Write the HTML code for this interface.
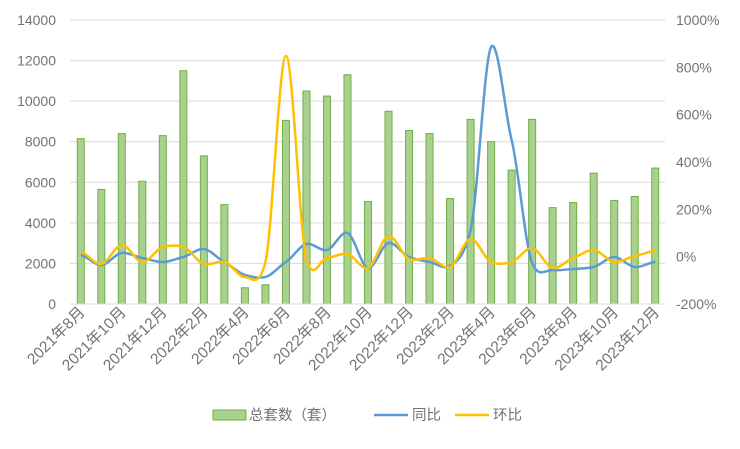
<!DOCTYPE html>
<html><head><meta charset="utf-8"><style>
body{margin:0;background:#fff;width:740px;height:444px;overflow:hidden}
svg text{font-family:"Liberation Sans","Noto Sans CJK SC",sans-serif;fill:#737373}
</style></head><body>
<svg id="s" width="740" height="444" xmlns="http://www.w3.org/2000/svg"></svg>
<script>
const s=document.getElementById('s');let h='';
const L=70,R=665,T=20,B=304;
for(let k=0;k<=7;k++){const y=B-k*(B-T)/7;h+=`<line x1="${L}" x2="${R}" y1="${y}" y2="${y}" stroke="#d9d9d9" stroke-width="1"/>`;
h+=`<text x="56" y="${y+5}" font-size="14" text-anchor="end">${k*2000}</text>`;}
for(let k=0;k<=6;k++){const y=B-k*(B-T)/6;h+=`<text x="676" y="${y+5}" font-size="14">${-200+k*200}%</text>`;}
const v=[8150,5650,8400,6050,8300,11500,7300,4900,800,950,9050,10500,10250,11300,5050,9500,8550,8400,5200,9100,8000,6600,9100,4750,5000,6450,5100,5300,6700];
const w=(R-L)/29, X=i=>L+w*(i+0.5)+0.5;
v.forEach((d,i)=>{const y=B-d/14000*(B-T);h+=`<rect x="${X(i)-3.5}" y="${y}" width="7" height="${B-y}" fill="#a9d18e" stroke="#70ad47" stroke-width="1"/>`;});
const blue=[255,265,253,258,262,257,249,262,275,277,262,244,250,233,268,243,257,262,266,230,47,140,263,270,269,267,257,267,262];
const yel=[252,264,245,262,247,247,264,262,277,262,56,259,258,254,268,236,259,258,267,239,262,262,248,268,258,250,262,256,251];
function path(a){let p=`M${X(0)},${a[0]}`;for(let i=0;i<a.length-1;i++){const p0=a[Math.max(i-1,0)],p1=a[i],p2=a[i+1],p3=a[Math.min(i+2,a.length-1)];
const c1=p1+(p2-p0)/8,c2=p2-(p3-p1)/8;p+=` C${X(i)+w/3},${c1} ${X(i+1)-w/3},${c2} ${X(i+1)},${p2}`;}return p;}
h+=`<path d="${path(blue)}" fill="none" stroke="#5b9bd5" stroke-width="2.5"/>`;
h+=`<path d="${path(yel)}" fill="none" stroke="#ffc000" stroke-width="2.5"/>`;
h+=`<line x1="${L}" x2="${R}" y1="${B}" y2="${B}" stroke="#d9d9d9"/>`;
const lab=['2021年8月','2021年10月','2021年12月','2022年2月','2022年4月','2022年6月','2022年8月','2022年10月','2022年12月','2023年2月','2023年4月','2023年6月','2023年8月','2023年10月','2023年12月'];
lab.forEach((t,j)=>{const x=X(2*j)+5,y=313;h+=`<text x="${x}" y="${y}" font-size="15.5" text-anchor="end" transform="rotate(-45 ${x} ${y})">${t}</text>`;});
h+=`<rect x="213" y="410" width="33" height="10" fill="#a9d18e" stroke="#70ad47"/><text x="249" y="420" font-size="14.5">总套数（套）</text>`;
h+=`<line x1="374" x2="408" y1="415" y2="415" stroke="#5b9bd5" stroke-width="2.5"/><text x="412" y="420" font-size="14.5">同比</text>`;
h+=`<line x1="455" x2="489" y1="415" y2="415" stroke="#ffc000" stroke-width="2.5"/><text x="493" y="420" font-size="14.5">环比</text>`;
s.innerHTML=h;
</script>
</body></html>
